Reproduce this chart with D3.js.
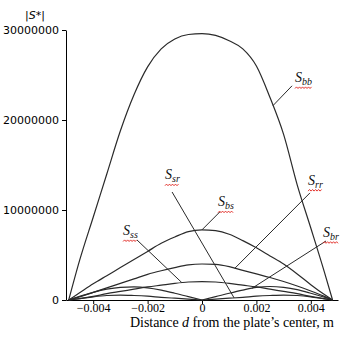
<!DOCTYPE html>
<html>
<head>
<meta charset="utf-8">
<script src="https://cdn.jsdelivr.net/npm/d3@7"></script>
<style>
    body { margin: 0; background: #fff; }
    svg { display: block; }
</style>
</head>
<body>
<svg id="chart" width="355" height="338"></svg>
<script>
// distance from the plate's center, m
const distances = [-0.0049, -0.0045, -0.004, -0.0035, -0.003, -0.0025, -0.002, -0.0015, -0.001, -0.0005,
    0, 0.0005, 0.001, 0.0015, 0.002, 0.0025, 0.003, 0.0035, 0.004, 0.0045, 0.0048];

// |S*| in millions
const s_bb = [0, 4.4, 9.2, 14.0, 18.8, 22.8, 25.9, 27.9, 29.0, 29.5, 29.6, 29.4, 28.8, 27.9, 26.0, 22.5, 18.4, 12.8, 8.0, 3.1, 0];
const s_bs = [0, 0.8, 1.8, 2.7, 3.6, 4.5, 5.4, 6.3, 7.0, 7.6, 7.8, 7.7, 7.3, 6.6, 5.8, 4.9, 4.0, 2.9, 1.7, 0.6, 0];
const s_rr = [0, 0.35, 0.85, 1.35, 1.85, 2.35, 2.85, 3.25, 3.6, 3.9, 4.0, 3.95, 3.7, 3.3, 2.9, 2.5, 2.05, 1.55, 1.0, 0.4, 0];
const s_ss = [0, 0.15, 0.4, 0.7, 0.95, 1.2, 1.45, 1.65, 1.85, 2.0, 2.05, 2.0, 1.85, 1.65, 1.45, 1.2, 0.95, 0.7, 0.4, 0.15, 0];
const s_br = [0, 0.4, 0.85, 1.2, 1.4, 1.45, 1.35, 1.1, 0.75, 0.37, 0, 0.37, 0.75, 1.1, 1.4, 1.5, 1.4, 1.15, 0.75, 0.3, 0];
const s_sr = [0, 0.15, 0.35, 0.5, 0.55, 0.5, 0.42, 0.3, 0.2, 0.1, 0, 0.1, 0.2, 0.3, 0.42, 0.5, 0.55, 0.5, 0.35, 0.12, 0];

const x_ticks = [-0.004, -0.002, 0, 0.002, 0.004];
const x_tick_labels = ["\u22120.004", "\u22120.002", "0", "0.002", "0.004"];
const y_ticks = [0, 10, 20, 30];
const y_tick_labels = ["0", "10000000", "20000000", "30000000"];

const series = [
    {key: "bb", values: s_bb},
    {key: "bs", values: s_bs},
    {key: "rr", values: s_rr},
    {key: "ss", values: s_ss},
    {key: "br", values: s_br},
    {key: "sr", values: s_sr},
];

// label text position, pointer start (both in data units) and the distance the pointer hits
const callouts = [
    {key: "bb", at: [0.00342, 24.2], from: [0.00331, 23.8], to: 0.00261},
    {key: "sr", at: [-0.00136, 13.4], from: [-0.0011, 12.0], to: 0.00118},
    {key: "ss", at: [-0.0029, 7.2], from: [-0.00239, 6.67], to: -0.00074},
    {key: "bs", at: [0.00059, 10.4], from: [0.00066, 9.8], to: 0},
    {key: "rr", at: [0.0039, 12.8], from: [0.00397, 11.9], to: 0.00121},
    {key: "br", at: [0.00445, 7.0], from: [0.00456, 6.56], to: 0.00184},
];

const svg = d3.select("#chart");

const x = d3.scaleLinear().domain([-0.005, 0.005]).range([66, 338]);
const y = d3.scaleLinear().domain([0, 30]).range([300, 30]);

// axes
const x_axis = d3.axisBottom(x)
    .tickValues(x_ticks)
    .tickFormat((d, i) => x_tick_labels[i])
    .tickSize(4)
    .tickSizeOuter(0);
const gx = svg.append("g").attr("transform", "translate(0,300)").call(x_axis);
gx.select(".domain").attr("stroke", "#000");
gx.selectAll("text")
    .attr("font-family", "'Liberation Serif', 'Times New Roman', serif")
    .attr("font-size", 12)
    .attr("fill", "#000")
    .attr("y", 3)
    .attr("dy", "0.71em");

const y_axis = d3.axisLeft(y)
    .tickValues(y_ticks)
    .tickFormat((d, i) => y_tick_labels[i])
    .tickSize(4)
    .tickSizeOuter(0);
const gy = svg.append("g").attr("transform", "translate(66,0)").call(y_axis);
gy.selectAll("text")
    .attr("font-family", "'DejaVu Sans', sans-serif")
    .attr("font-size", 11)
    .attr("fill", "#000");

svg.append("text")
    .attr("x", 35).attr("y", 19)
    .attr("text-anchor", "middle")
    .attr("font-family", "'DejaVu Sans', sans-serif")
    .attr("font-size", 11)
    .html("|<tspan font-style='italic'>S</tspan>*|");

svg.append("text")
    .attr("x", 130).attr("y", 327)
    .attr("font-family", "'Liberation Serif', 'Times New Roman', serif")
    .attr("font-size", 14)
    .attr("textLength", 204)
    .attr("lengthAdjust", "spacing")
    .html("Distance <tspan font-style='italic'>d</tspan> from the plate\u2019s center, m");

// curves: split at interior zeros so the |S| kinks stay sharp
function segments(values) {
    let out = [], cur = [];
    values.forEach((v, i) => {
        cur.push([distances[i], v]);
        if (v === 0 && i > 0 && i < values.length - 1) {
            out.push(cur);
            cur = [[distances[i], v]];
        }
    });
    out.push(cur);
    return out;
}

const line = d3.line()
    .x(d => x(d[0]))
    .y(d => y(d[1]))
    .curve(d3.curveMonotoneX);

const curves = svg.append("g")
    .attr("fill", "none")
    .attr("stroke", "#2a2a2a")
    .attr("stroke-width", 1.2);

series.forEach(s => {
    curves.selectAll(null)
        .data(segments(s.values))
        .enter().append("path")
        .attr("d", line);
});

function value_at(values, d) {
    for (let i = 0; i < distances.length - 1; i++) {
        if (d >= distances[i] && d <= distances[i + 1]) {
            let t = (d - distances[i]) / (distances[i + 1] - distances[i]);
            return values[i] + t * (values[i + 1] - values[i]);
        }
    }
    return 0;
}

// callouts
const notes = svg.append("g");
callouts.forEach(c => {
    let s = series.find(e => e.key === c.key);
    notes.append("line")
        .attr("x1", x(c.from[0])).attr("y1", y(c.from[1]))
        .attr("x2", x(c.to)).attr("y2", y(value_at(s.values, c.to)))
        .attr("stroke", "#2a2a2a")
        .attr("stroke-width", 1);

    let t = notes.append("text")
        .attr("x", x(c.at[0])).attr("y", y(c.at[1]))
        .attr("font-family", "'Liberation Serif', 'Times New Roman', serif")
        .attr("font-style", "italic")
        .attr("fill", "#111");
    t.append("tspan").attr("font-size", 14).text("S");
    t.append("tspan").attr("font-size", 10).attr("dy", 3).text(c.key);

    // spell-check squiggle under the label
    let w = t.node().getComputedTextLength();
    let x0 = x(c.at[0]), yy = y(c.at[1]) + 5.5;
    let pts = [];
    for (let k = 0; k * 1.5 <= w; k++)
        pts.push([x0 + k * 1.5, yy + (k % 2 ? -0.8 : 0.8)]);
    notes.append("path")
        .attr("d", d3.line()(pts))
        .attr("fill", "none")
        .attr("stroke", "#e0201a")
        .attr("stroke-width", 0.9);
});
</script>
</body>
</html>
